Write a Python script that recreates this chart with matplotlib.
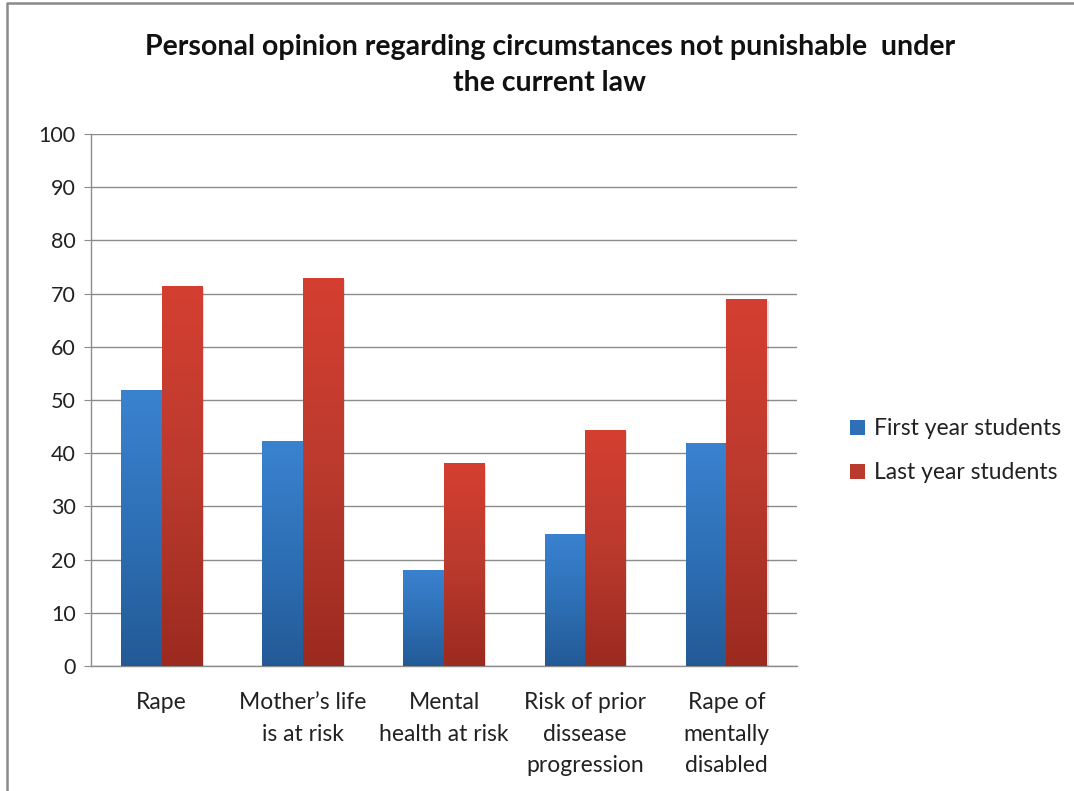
import numpy as np
import matplotlib.pyplot as plt
from matplotlib.patches import Patch, Rectangle
from matplotlib.lines import Line2D
from matplotlib.colors import LinearSegmentedColormap

plt.rcParams['font.family'] = ['Lato', 'DejaVu Sans']

categories = ["Rape", "Mother\u2019s life\nis at risk", "Mental\nhealth at risk",
              "Risk of prior\ndissease\nprogression", "Rape of\nmentally\ndisabled"]
first_year = [51.9, 42.2, 18.1, 24.9, 42.0]
last_year = [71.4, 72.9, 38.1, 44.4, 69.0]
series_names = ["First year students", "Last year students"]

blue_cmap = LinearSegmentedColormap.from_list("b", ["#235a96", "#2e70b6", "#3a82d0"])
red_cmap = LinearSegmentedColormap.from_list("r", ["#9c2a1f", "#bb3a2e", "#d43f31"])

W, H = 1074, 791
fig = plt.figure(figsize=(W / 100, H / 100), dpi=100)
ax = fig.add_axes([91 / W, 1 - 666 / H, (797 - 91) / W, (666 - 134) / H])

# outer chart frame (only left and top edges are visible in the crop)
fig.add_artist(Line2D([7 / W, 7 / W, 1], [0, 1 - 2.5 / H, 1 - 2.5 / H], transform=fig.transFigure,
                      color="#8a8a8a", linewidth=1.8))

x = np.arange(len(categories))
w = 0.287
grad = np.linspace(0, 1, 256).reshape(-1, 1)
for vals, off, cmap in [(first_year, -w / 2, blue_cmap), (last_year, w / 2, red_cmap)]:
    bars = ax.bar(x + off, vals, width=w, color="none", edgecolor="none", zorder=3)
    for b in bars:
        bx, by = b.get_x(), b.get_y()
        bw, bh = b.get_width(), b.get_height()
        # soft shadow
        ax.add_patch(Rectangle((bx + 0.012, by), bw, bh - 0.3, facecolor="#000000",
                               alpha=0.12, edgecolor="none", zorder=2.5))
        im = ax.imshow(grad, extent=[bx, bx + bw, by, by + bh], origin="lower",
                       cmap=cmap, aspect="auto", zorder=3)
        im.set_clip_path(b)

ax.set_xlim(-0.5, len(categories) - 0.5)
ax.set_ylim(0, 100)
ax.set_yticks(range(0, 101, 10))
ax.yaxis.grid(True, color="#8c8c8c", linewidth=1.0)
ax.set_axisbelow(True)
ax.set_xticks(x)
ax.set_xticklabels(categories, fontsize=16.5, color="#222222", linespacing=1.6, va="top")
ax.tick_params(axis="x", length=0, pad=19)
ax.tick_params(axis="y", labelsize=15.5, labelcolor="#222222", length=5, color="#8c8c8c", pad=6)
for s in ["top", "right"]:
    ax.spines[s].set_visible(False)
for s in ["left", "bottom"]:
    ax.spines[s].set_color("#8c8c8c")
    ax.spines[s].set_linewidth(1.0)

fig.text(0.512, 0.918, "Personal opinion regarding circumstances not punishable  under\nthe current law",
         ha="center", va="center", fontsize=20.5, fontweight="bold", color="#111111", linespacing=1.45)

handles = [Patch(facecolor="#2e70b6", edgecolor="none"), Patch(facecolor="#bb3a2e", edgecolor="none")]
fig.legend(handles, series_names, loc="center left", bbox_to_anchor=(0.772, 0.43), frameon=False,
           fontsize=16.5, handlelength=0.65, handleheight=0.65, handletextpad=0.4,
           labelspacing=1.0, labelcolor="#222222")

fig.savefig("out.png", dpi=100)
